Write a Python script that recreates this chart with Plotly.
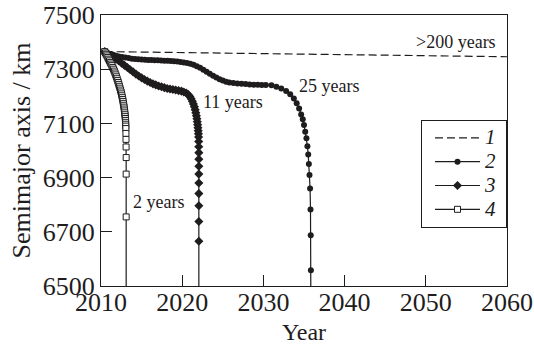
import plotly.graph_objects as go

# ---------------- data ----------------
# curve 1 (dashed, >200 years)
c1_year = [2010.45, 2060.0]
c1_a = [7365, 7346]

# curve 2 (filled circles, 25 years)
c2_year = [2010.45, 2010.8, 2011.15, 2011.5, 2011.85, 2012.2, 2012.6, 2013.0, 2013.4, 2013.8,
           2014.2, 2014.6, 2015.0, 2015.4, 2015.8, 2016.2, 2016.6, 2017.0, 2017.4, 2017.8,
           2018.2, 2018.6, 2019.0, 2019.4, 2019.8, 2020.2, 2020.6, 2021.0, 2021.4, 2021.8,
           2022.2, 2022.6, 2023.0, 2023.4, 2023.8, 2024.2, 2024.6, 2025.0, 2025.4, 2025.8,
           2026.3, 2026.8, 2027.3, 2027.8, 2028.3, 2028.8, 2029.3, 2029.8, 2030.3, 2031.0,
           2031.6, 2032.2, 2032.8, 2033.3, 2033.75, 2034.1, 2034.4, 2034.65, 2034.85, 2035.0,
           2035.15, 2035.3, 2035.42, 2035.52, 2035.6, 2035.68, 2035.75, 2035.8, 2035.83, 2035.85,
           2035.85]
c2_a = [7365, 7360, 7356, 7353, 7350, 7347, 7345, 7343, 7341, 7339,
        7338, 7337, 7336, 7335, 7334, 7334, 7333, 7333, 7332, 7331,
        7331, 7330, 7329, 7328, 7327, 7325, 7323, 7320, 7316, 7311,
        7305, 7298, 7291, 7283, 7276, 7269, 7263, 7258, 7254, 7251,
        7249, 7247, 7246, 7245, 7244, 7243, 7243, 7242, 7242, 7241,
        7235, 7229, 7220, 7208, 7192, 7174, 7155, 7133, 7115, 7094,
        7069, 7045, 7016, 6985, 6950, 6910, 6860, 6782, 6687, 6558,
        6400]

# curve 3 (filled diamonds, 11 years)
c3_year = [2010.45, 2010.8, 2011.15, 2011.5, 2011.85, 2012.2, 2012.55, 2012.9, 2013.25, 2013.6,
           2013.95, 2014.3, 2014.65, 2015.0, 2015.35, 2015.7, 2016.05, 2016.4, 2016.75, 2017.1,
           2017.45, 2017.8, 2018.15, 2018.5, 2018.85, 2019.2, 2019.55, 2019.9, 2020.2, 2020.5,
           2020.75, 2020.95, 2021.1, 2021.25, 2021.38, 2021.5, 2021.6, 2021.68, 2021.75, 2021.81,
           2021.86, 2021.9, 2021.94, 2021.97, 2022.0, 2022.02, 2022.03, 2022.04, 2022.05, 2022.05,
           2022.05, 2022.05, 2022.05, 2022.05, 2022.05, 2022.05, 2022.05, 2022.05]
c3_a = [7365, 7358, 7351, 7344, 7337, 7330, 7322, 7314, 7306, 7298,
        7290, 7282, 7275, 7268, 7262, 7256, 7251, 7246, 7242, 7238,
        7235, 7232, 7229, 7227, 7225, 7223, 7221, 7219, 7216, 7212,
        7206, 7199, 7191, 7182, 7172, 7161, 7150, 7139, 7128, 7117,
        7106, 7095, 7084, 7073, 7062, 7050, 7033, 7014, 6992, 6968,
        6942, 6913, 6880, 6841, 6796, 6738, 6665, 6400]

# curve 4 (open squares, 2 years)
c4_year = [2010.45, 2010.55, 2010.65, 2010.75, 2010.85, 2010.95, 2011.05, 2011.15, 2011.25, 2011.35,
           2011.45, 2011.55, 2011.64, 2011.73, 2011.82, 2011.9, 2011.98, 2012.06, 2012.13, 2012.2,
           2012.27, 2012.34, 2012.41, 2012.47, 2012.53, 2012.58, 2012.63, 2012.68, 2012.72, 2012.76,
           2012.8, 2012.84, 2012.87, 2012.9, 2012.93, 2012.96, 2012.98, 2013.0, 2013.02, 2013.03,
           2013.04, 2013.05, 2013.06, 2013.07, 2013.08, 2013.09, 2013.1, 2013.1, 2013.1, 2013.1]
c4_a = [7365, 7360, 7355, 7349, 7343, 7337, 7331, 7325, 7319, 7313,
        7306, 7300, 7293, 7286, 7279, 7272, 7265, 7258, 7251, 7244,
        7237, 7230, 7223, 7216, 7209, 7202, 7195, 7188, 7181, 7174,
        7167, 7160, 7153, 7146, 7139, 7132, 7125, 7118, 7111, 7104,
        7097, 7090, 7081, 7063, 7041, 7013, 6974, 6913, 6755, 6400]

series_names = ["1", "2", "3", "4"]

x_ticks = [2010, 2020, 2030, 2040, 2050, 2060]
x_ticklabels = ["2010", "2020", "2030", "2040", "2050", "2060"]
y_ticks = [6500, 6700, 6900, 7100, 7300, 7500]
y_ticklabels = ["6500", "6700", "6900", "7100", "7300", "7500"]

note_text = [">200 years", "25 years", "11 years", "2 years"]
note_x = [2053.7, 2038.1, 2026.2, 2017.1]
note_y = [7400, 7238, 7179, 6809]

# ---------------- figure ----------------
SERIF = "Liberation Serif, Times New Roman, serif"
INK = "#1e1c1c"


def legend_label(s):
    return "<span style='font-size:21px'>" + s + "</span>&nbsp;"


fig = go.Figure()
fig.add_trace(go.Scatter(x=c1_year, y=c1_a, mode="lines", name=legend_label(series_names[0]),
                         line=dict(color=INK, width=1.2, dash="8px,4px")))
fig.add_trace(go.Scatter(x=c2_year, y=c2_a, mode="lines+markers", name=legend_label(series_names[1]),
                         line=dict(color=INK, width=1.2),
                         marker=dict(symbol="circle", size=6, color=INK, line=dict(width=0))))
fig.add_trace(go.Scatter(x=c3_year, y=c3_a, mode="lines+markers", name=legend_label(series_names[2]),
                         line=dict(color=INK, width=1.2),
                         marker=dict(symbol="diamond", size=7, color=INK, line=dict(width=0))))
fig.add_trace(go.Scatter(x=c4_year, y=c4_a, mode="lines+markers", name=legend_label(series_names[3]),
                         line=dict(color=INK, width=1.2),
                         marker=dict(symbol="square", size=6, color="white",
                                     line=dict(color=INK, width=1))))

for t, x, y in zip(note_text, note_x, note_y):
    fig.add_annotation(x=x, y=y, xref="x", yref="y", text=t, showarrow=False,
                       xanchor="center", yanchor="middle",
                       font=dict(family=SERIF, size=18, color=INK))

fig.update_layout(
    width=534, height=345,
    margin=dict(l=101, r=27, t=15, b=59, pad=0),
    paper_bgcolor="white", plot_bgcolor="white",
    font=dict(family=SERIF, color=INK),
    showlegend=True,
    legend=dict(x=1, xanchor="right", y=0.6125, yanchor="top",
                bgcolor="white", bordercolor=INK, borderwidth=1,
                font=dict(family=SERIF, size=16, style="italic", color=INK),
                itemwidth=45, indentation=8,
                tracegroupgap=0),
)
fig.update_xaxes(range=[2010, 2060], tickvals=x_ticks, ticktext=x_ticklabels,
                 ticks="inside", ticklen=11, tickwidth=1, tickcolor=INK,
                 showline=True, linecolor=INK, linewidth=1, mirror=True,
                 showgrid=False, zeroline=False, automargin=False,
                 ticklabelstandoff=-7,
                 tickfont=dict(family=SERIF, size=26, color=INK),
                 title=dict(text="Year", font=dict(family=SERIF, size=24, color=INK), standoff=9))
fig.update_yaxes(range=[6500, 7500], tickvals=y_ticks, ticktext=y_ticklabels,
                 ticks="inside", ticklen=11, tickwidth=1, tickcolor=INK,
                 showline=True, linecolor=INK, linewidth=1, mirror=True,
                 showgrid=False, zeroline=False, automargin=False,
                 tickfont=dict(family=SERIF, size=26, color=INK),
                 title=dict(text="Semimajor axis / km", font=dict(family=SERIF, size=26, color=INK), standoff=4))

fig.write_html("out.html")
